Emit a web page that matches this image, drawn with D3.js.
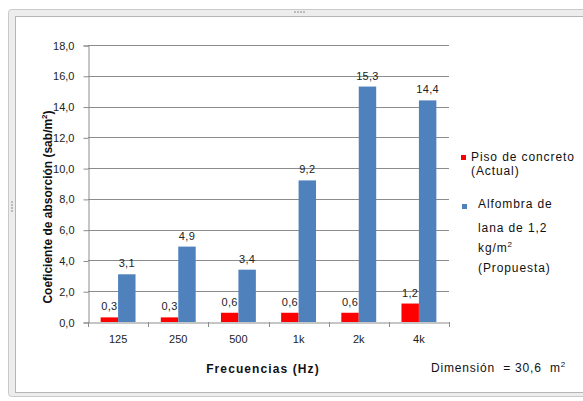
<!DOCTYPE html>
<html>
<head>
<meta charset="utf-8">
<script src="https://cdn.jsdelivr.net/npm/d3@7"></script>
<style>
	body { margin: 0; background: #fff; }
	svg { display: block; font-family: "Liberation Sans", Arial, sans-serif; }
</style>
</head>
<body>
<svg id="chart" width="583" height="401"></svg>
<script>
// data
const frequencies = ["125", "250", "500", "1k", "2k", "4k"];
const concreto = [0.3, 0.3, 0.6, 0.6, 0.6, 1.2];
const alfombra = [3.1, 4.9, 3.4, 9.2, 15.3, 14.4];
const yTicks = [0, 2, 4, 6, 8, 10, 12, 14, 16, 18];
const seriesNames = ["Piso de concreto", "Alfombra"];
const colors = ["#ff0000", "#4f81bd"];

const svg = d3.select("#chart");
const size = { x0: 88, x1: 449, y0: 322, y1: 45 };

// frame round the chart (excel selection border)
const frame = svg.append("g");
frame.append("rect")
	.attr("x", 8.5).attr("y", 9.5).attr("width", 600).attr("height", 387)
	.attr("rx", 3)
	.attr("fill", "#ededed").attr("stroke", "#c9c9c9");
frame.append("rect")
	.attr("x", 15.5).attr("y", 16.5).attr("width", 600).attr("height", 376)
	.attr("fill", "#fff").attr("stroke", "#b5b5b5");
// little grip dots
[294, 297, 300, 303].forEach((x) => {
	frame.append("rect").attr("x", x).attr("y", 11).attr("width", 2).attr("height", 2).attr("fill", "#bbb");
});
[201, 204, 207, 210].forEach((y) => {
	frame.append("rect").attr("x", 11).attr("y", y).attr("width", 2).attr("height", 2).attr("fill", "#bbb");
});

let x = d3.scaleBand()
	.domain(frequencies)
	.range([size.x0, size.x1])
	.paddingInner(0.42)
	.paddingOuter(0.21);

let xSub = d3.scaleBand()
	.domain(seriesNames)
	.range([0, x.bandwidth()]);

let y = d3.scaleLinear()
	.domain([0, 18])
	.range([size.y0, size.y1]);

// gridlines
svg.append("g")
	.selectAll("line")
	.data(yTicks.filter((d) => d > 0))
	.join("line")
	.attr("x1", size.x0).attr("x2", size.x1)
	.attr("y1", (d) => Math.round(y(d)) + 0.5)
	.attr("y2", (d) => Math.round(y(d)) + 0.5)
	.attr("stroke", "#8c8c8c");

// y axis
let yAxis = svg.append("g")
	.attr("transform", `translate(${size.x0 + 0.5},0.5)`)
	.call(d3.axisLeft(y).tickValues(yTicks).tickSize(5).tickPadding(9)
		.tickFormat((d) => d3.format(".1f")(d).replace(".", ",")));
yAxis.select(".domain").attr("stroke", "#8c8c8c");
yAxis.selectAll(".tick line").attr("stroke", "#8c8c8c");
yAxis.selectAll("text").attr("font-size", 11).attr("fill", "#222")
	.attr("font-family", "Liberation Sans, Arial, sans-serif");

// x axis
let xAxis = svg.append("g")
	.attr("transform", `translate(0,${size.y0 + 0.5})`)
	.call(d3.axisBottom(x).tickSize(0).tickPadding(13));
xAxis.select(".domain").attr("stroke", "#8c8c8c");
xAxis.selectAll("text").attr("font-size", 11).attr("fill", "#222")
	.attr("font-family", "Liberation Sans, Arial, sans-serif");
// tick marks between categories
let step = x.step();
svg.append("g")
	.selectAll("line")
	.data(d3.range(frequencies.length + 1))
	.join("line")
	.attr("x1", (i) => Math.round(size.x0 + i * step) + 0.5)
	.attr("x2", (i) => Math.round(size.x0 + i * step) + 0.5)
	.attr("y1", size.y0).attr("y2", size.y0 + 5)
	.attr("stroke", "#8c8c8c");

// bars
let rows = frequencies.map((f, i) => ({ freq: f, values: [concreto[i], alfombra[i]] }));
let groups = svg.append("g")
	.selectAll("g.group")
	.data(rows)
	.join("g")
	.classed("group", true)
	.attr("transform", (d) => `translate(${x(d.freq)},0)`);

groups.selectAll("rect")
	.data((d) => d.values.map((v, k) => ({ v, k })))
	.join("rect")
	.attr("x", (d) => xSub(seriesNames[d.k]))
	.attr("width", xSub.bandwidth())
	.attr("y", (d) => y(d.v))
	.attr("height", (d) => y(0) - y(d.v))
	.attr("fill", (d) => colors[d.k]);

groups.selectAll("text")
	.data((d) => d.values.map((v, k) => ({ v, k })))
	.join("text")
	.attr("x", (d) => xSub(seriesNames[d.k]) + xSub.bandwidth() / 2)
	.attr("y", (d) => y(d.v) - 7)
	.attr("text-anchor", "middle")
	.attr("font-size", 11)
	.attr("letter-spacing", 0.3)
	.attr("fill", "#222")
	.text((d) => d3.format(".1f")(d.v).replace(".", ","));

// axis titles
svg.append("text")
	.attr("transform", "translate(52,207) rotate(-90)")
	.attr("text-anchor", "middle")
	.attr("font-size", 12)
	.attr("font-weight", "bold")
	.attr("fill", "#111")
	.html('Coeficiente de absorción (sab/m<tspan font-size="8" dy="-5">2</tspan><tspan dy="5">)</tspan>');

svg.append("text")
	.attr("x", 263).attr("y", 373)
	.attr("text-anchor", "middle")
	.attr("font-size", 12)
	.attr("font-weight", "bold")
	.attr("letter-spacing", 1.1)
	.attr("fill", "#111")
	.text("Frecuencias (Hz)");

svg.append("text")
	.attr("x", 431).attr("y", 372)
	.attr("font-size", 12)
	.attr("letter-spacing", 0.8)
	.attr("fill", "#111")
	.html('Dimensión&#160; = 30,6&#160; m<tspan font-size="8" dy="-5">2</tspan>');

// legend
let legend = svg.append("g").attr("font-size", 12).attr("letter-spacing", 0.9).attr("fill", "#111");
legend.append("rect").attr("x", 461).attr("y", 155).attr("width", 5).attr("height", 5).attr("fill", colors[0]);
legend.append("text").attr("x", 471).attr("y", 161).text("Piso de concreto");
legend.append("text").attr("x", 471).attr("y", 175).text("(Actual)");
legend.append("rect").attr("x", 462).attr("y", 204).attr("width", 5).attr("height", 5).attr("fill", colors[1]);
legend.append("text").attr("x", 478).attr("y", 208).text("Alfombra de");
legend.append("text").attr("x", 478).attr("y", 232).text("lana de 1,2");
legend.append("text").attr("x", 478).attr("y", 252)
	.html('kg/m<tspan font-size="8" dy="-5">2</tspan>');
legend.append("text").attr("x", 478).attr("y", 272).text("(Propuesta)");
</script>
</body>
</html>
